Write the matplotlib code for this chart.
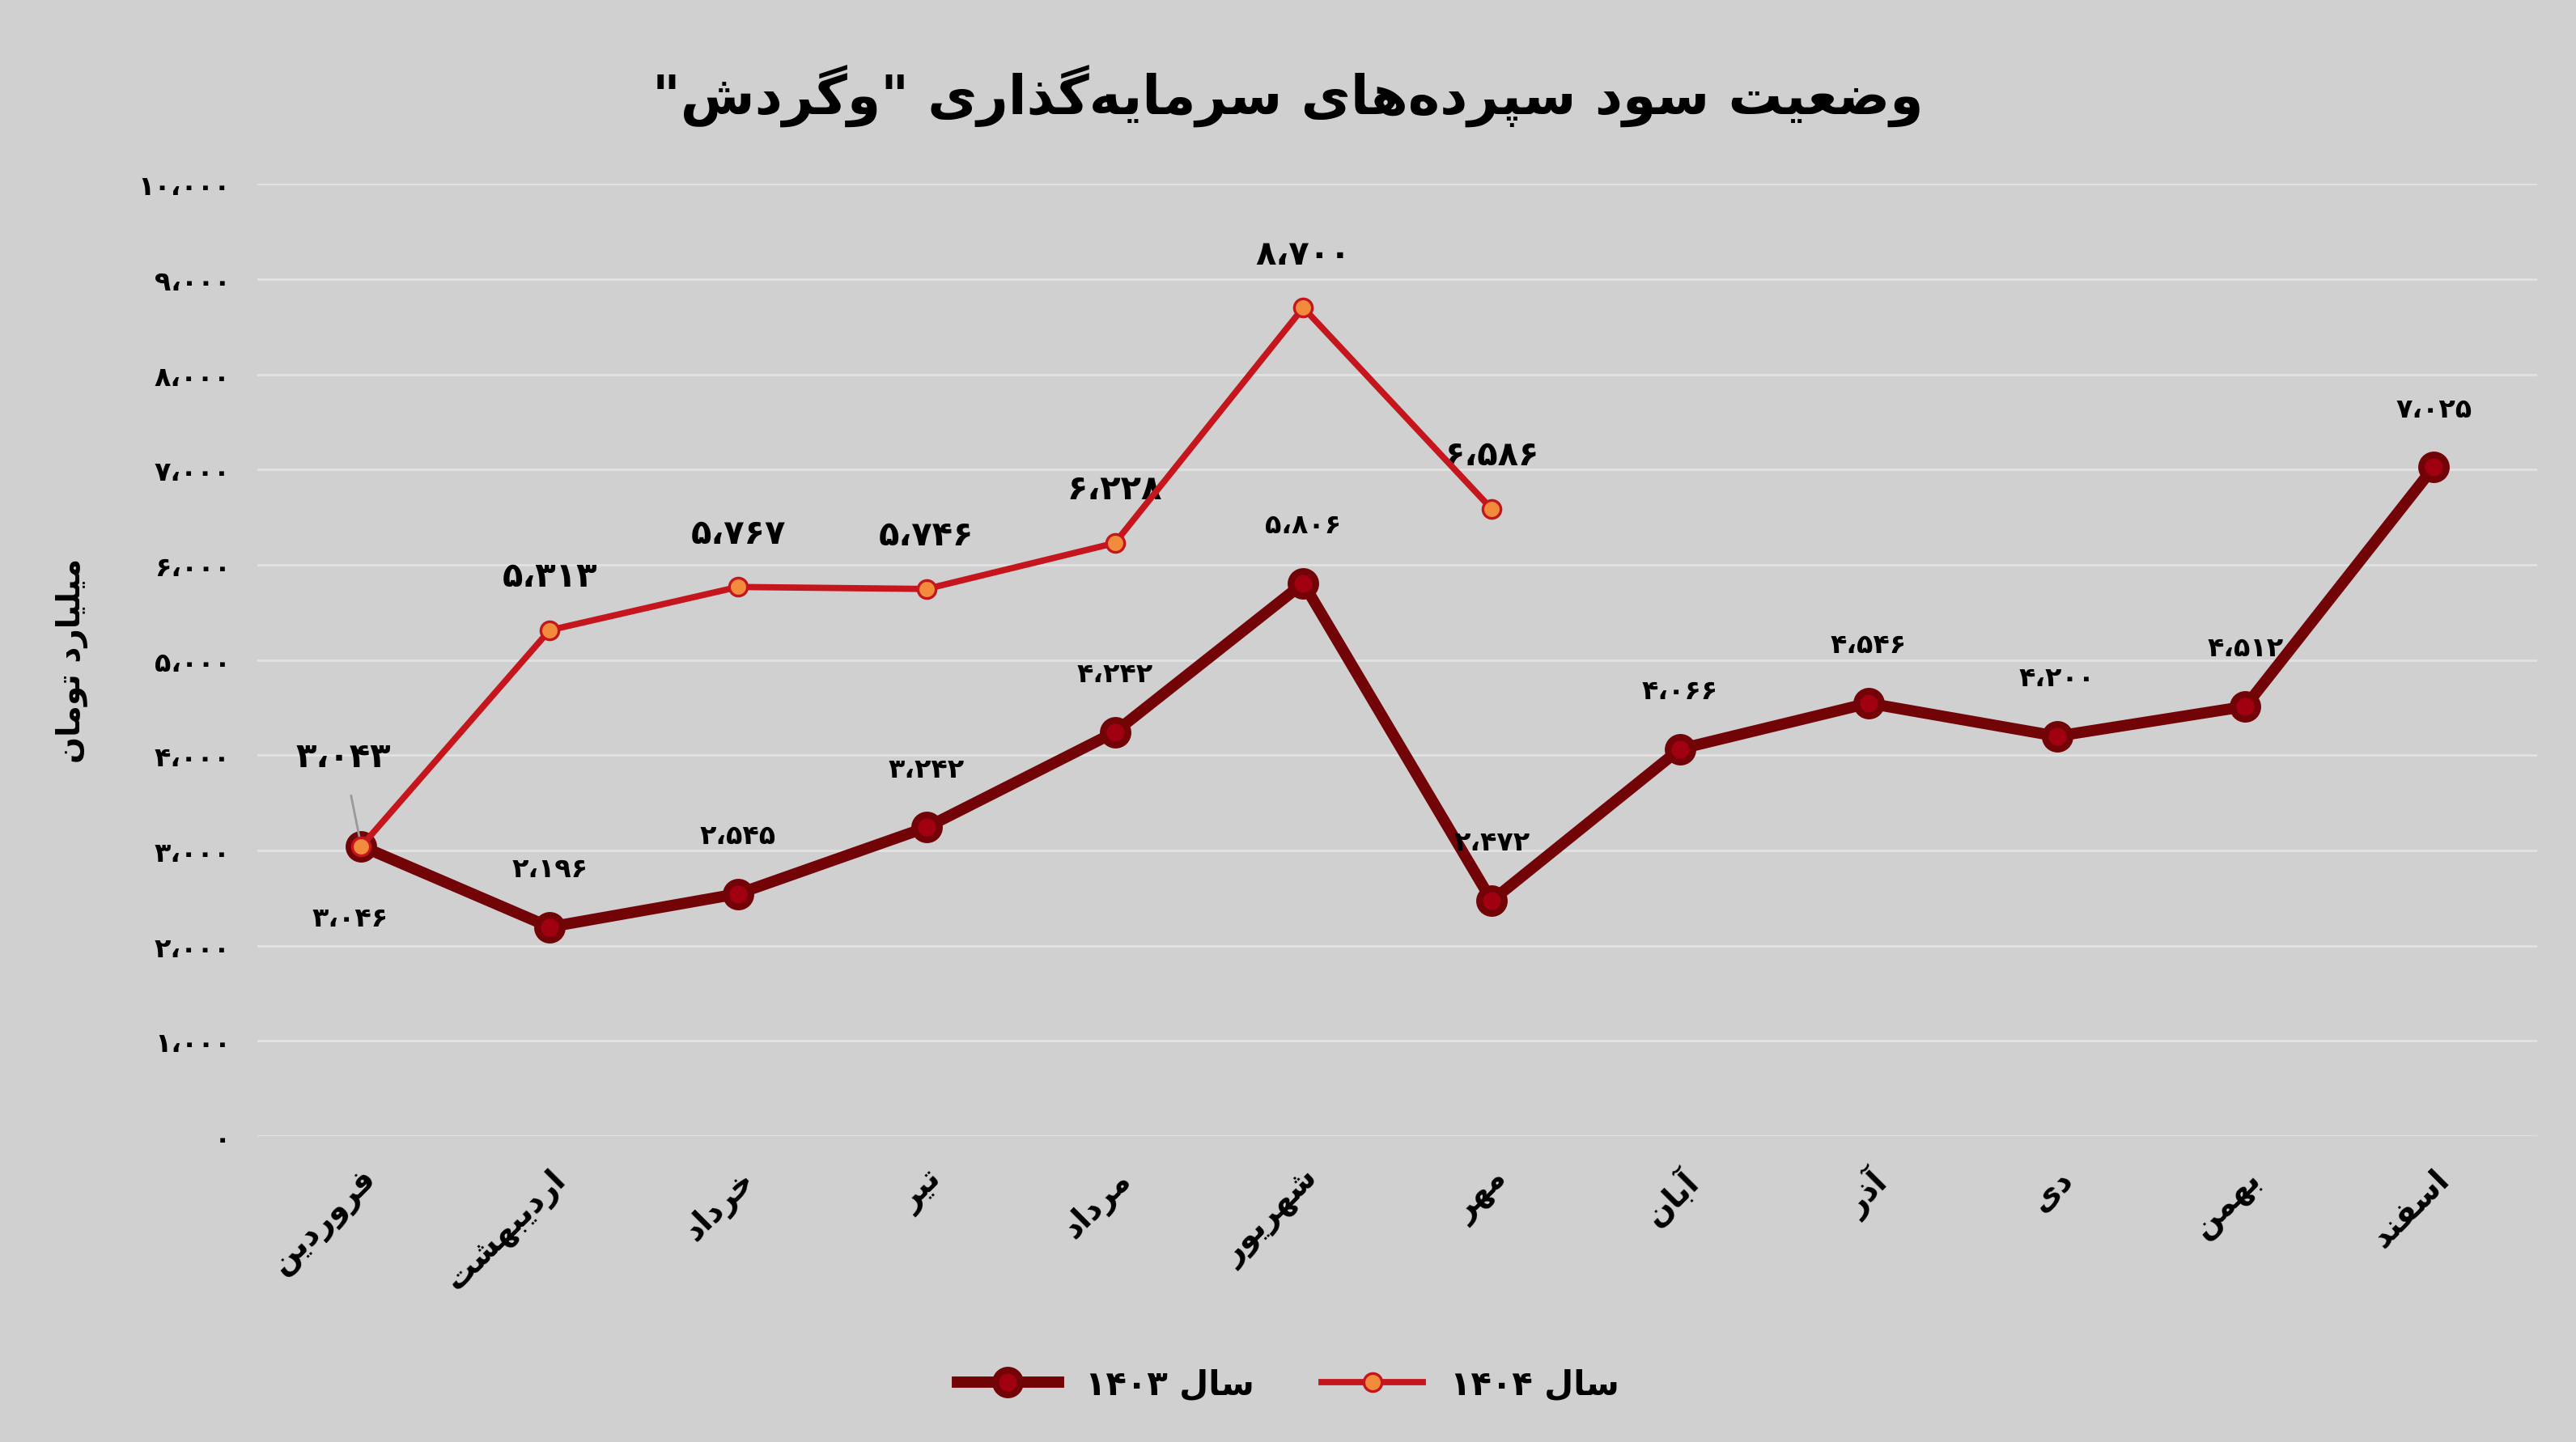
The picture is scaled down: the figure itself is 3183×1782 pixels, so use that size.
import numpy as np
import matplotlib.pyplot as plt
from matplotlib.lines import Line2D

months = ["فروردین", "اردیبهشت", "خرداد", "تیر", "مرداد", "شهریور",
          "مهر", "آبان", "آذر", "دی", "بهمن", "اسفند"]
vals_1403 = [3046, 2196, 2545, 3242, 4242, 5806, 2472, 4066, 4546, 4200, 4512, 7025]
vals_1404 = [3043, 5313, 5767, 5746, 6228, 8700, 6586]
yticks = [0, 1000, 2000, 3000, 4000, 5000, 6000, 7000, 8000, 9000, 10000]
title = 'وضعیت سود سپرده\u200cهای سرمایه\u200cگذاری "وگردش"'
ylabel = "میلیارد تومان"
word_year = "سال"

# contextual forms: isolated, final, initial, medial
FORMS = {
    'ا': (0xFE8D, 0xFE8E), 'آ': (0xFE81, 0xFE82),
    'ب': (0xFE8F, 0xFE90, 0xFE91, 0xFE92), 'پ': (0xFB56, 0xFB57, 0xFB58, 0xFB59),
    'ت': (0xFE95, 0xFE96, 0xFE97, 0xFE98), 'خ': (0xFEA5, 0xFEA6, 0xFEA7, 0xFEA8),
    'د': (0xFEA9, 0xFEAA), 'ذ': (0xFEAB, 0xFEAC), 'ر': (0xFEAD, 0xFEAE),
    'ز': (0xFEAF, 0xFEB0), 'و': (0xFEED, 0xFEEE),
    'س': (0xFEB1, 0xFEB2, 0xFEB3, 0xFEB4), 'ش': (0xFEB5, 0xFEB6, 0xFEB7, 0xFEB8),
    'ض': (0xFEBD, 0xFEBE, 0xFEBF, 0xFEC0), 'ع': (0xFEC9, 0xFECA, 0xFECB, 0xFECC),
    'ف': (0xFED1, 0xFED2, 0xFED3, 0xFED4), 'ل': (0xFEDD, 0xFEDE, 0xFEDF, 0xFEE0),
    'م': (0xFEE1, 0xFEE2, 0xFEE3, 0xFEE4), 'ن': (0xFEE5, 0xFEE6, 0xFEE7, 0xFEE8),
    'ه': (0xFEE9, 0xFEEA, 0xFEEB, 0xFEEC), 'ی': (0xFBFC, 0xFBFD, 0xFBFE, 0xFBFF),
    'گ': (0xFB92, 0xFB93, 0xFB94, 0xFB95),
}


def fa(s):
    out = []
    for i, c in enumerate(s):
        if c not in FORMS:
            if c != '\u200c':
                out.append(c)
            continue
        prev = s[i - 1] if i > 0 else ''
        nxt = s[i + 1] if i + 1 < len(s) else ''
        pj = prev in FORMS and len(FORMS[prev]) == 4
        nj = nxt in FORMS
        f = FORMS[c]
        if len(f) == 2:
            out.append(chr(f[1] if pj else f[0]))
        else:
            if pj and nj:
                out.append(chr(f[3]))
            elif pj:
                out.append(chr(f[1]))
            elif nj:
                out.append(chr(f[2]))
            else:
                out.append(chr(f[0]))
    return ''.join(out[::-1])


def fnum(v):
    s = f"{v:,}"
    return s.translate(str.maketrans("0123456789,", "۰۱۲۳۴۵۶۷۸۹،"))


bg = '#d0d0d0'
c03 = '#720408'
c04 = '#c4161c'

plt.rcParams['font.family'] = ['DejaVu Sans']
fig = plt.figure(figsize=(15.915, 8.915), dpi=200, facecolor=bg)
ax = fig.add_axes([0.1, 0.212, 0.885, 0.66], facecolor=bg)

x03 = np.arange(len(vals_1403))
x04 = np.arange(len(vals_1404))
ax.plot(x03, vals_1403, color=c03, lw=5, marker='o', ms=11,
        mfc='#a00010', mec=c03, mew=3, zorder=3)
ax.plot(x04, vals_1404, color=c04, lw=2.8, marker='o', ms=8,
        mfc='#f28c3c', mec=c04, mew=1.2, zorder=4)

for i, v in enumerate(vals_1403):
    if i == 0:
        ax.annotate(fnum(v), (i, v), xytext=(-5, -32), textcoords='offset points',
                    ha='center', va='center', fontsize=12, fontweight='bold')
    else:
        ax.annotate(fnum(v), (i, v), xytext=(0, 26), textcoords='offset points',
                    ha='center', va='center', fontsize=12, fontweight='bold')
for i, v in enumerate(vals_1404):
    if i == 0:
        ax.annotate(fnum(v), (i, v), xytext=(-8, 40), textcoords='offset points',
                    ha='center', va='center', fontsize=15, fontweight='bold',
                    arrowprops=dict(arrowstyle='-', color='#999999', lw=1, shrinkA=8, shrinkB=0))
    else:
        ax.annotate(fnum(v), (i, v), xytext=(0, 24), textcoords='offset points',
                    ha='center', va='center', fontsize=15, fontweight='bold')

ax.set_xlim(-0.55, 11.55)
ax.set_ylim(0, 10000)
ax.set_yticks(yticks)
ax.set_yticklabels([fnum(v) for v in yticks], fontsize=12, fontweight='bold')
ax.set_xticks(x03)
ax.set_xticklabels([fa(m) for m in months], rotation=45, ha='right',
                   rotation_mode='anchor', fontsize=14, fontweight='bold')
ax.grid(axis='y', color='#e2e2e2', lw=1)
ax.set_axisbelow(True)
ax.tick_params(length=0, pad=12)
for sp in ax.spines.values():
    sp.set_visible(False)
ax.set_ylabel(fa(ylabel), fontsize=14, fontweight='bold', labelpad=22)

fig.suptitle(fa(title), y=0.955, fontsize=24, fontweight='bold')

handles = [
    Line2D([], [], color=c03, lw=5, marker='o', ms=11, mfc='#a00010', mec=c03, mew=3),
    Line2D([], [], color=c04, lw=2.8, marker='o', ms=8, mfc='#f28c3c', mec=c04, mew=1.2),
]
labels = [fnum(1403).replace('،', '') + ' ' + fa(word_year),
          fnum(1404).replace('،', '') + ' ' + fa(word_year)]
fig.legend(handles, labels, loc='center', bbox_to_anchor=(0.5, 0.04), ncol=2,
           frameon=False, prop={'size': 15, 'weight': 'bold'}, handlelength=3,
           columnspacing=2)

fig.savefig('out.png', dpi=200, facecolor=bg)
